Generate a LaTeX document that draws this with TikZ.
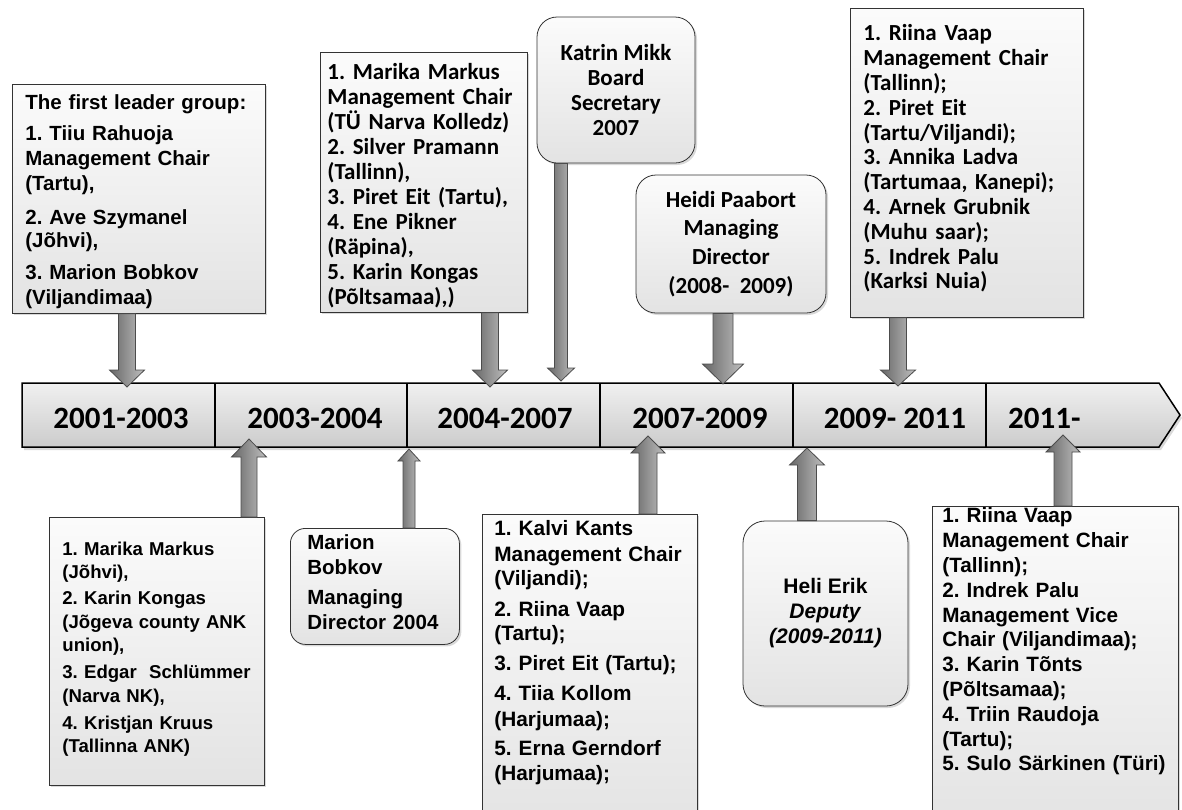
\documentclass[tikz,border=0pt]{standalone}
\usepackage{fontspec}
\usepackage{xcolor}
\usepackage{tikz}
\usetikzlibrary{calc}
\usetikzlibrary{shadows}

\newfontfamily\arialfont{Liberation Sans}
\newfontfamily\calibrifont{Carlito}

% fat block arrow: start, tip, half shaft, half head, head length (signed)
\newcommand{\blockarrow}[5]{%
  \path[block arrow] ($(#1)+(-#3,0)$) -- ($(#2)+(-#3,#5)$) -- ($(#2)+(-#4,#5)$) -- (#2)
    -- ($(#2)+(#4,#5)$) -- ($(#2)+(#3,#5)$) -- ($(#1)+(#3,0)$) -- cycle;}

\begin{document}
\frenchspacing
\hyphenpenalty=10000
\exhyphenpenalty=10000
\begin{tikzpicture}[x=1pt,y=-1pt,
    list node/.style={rectangle,draw=black!80,line width=0.8pt,top color=gray!3,bottom color=gray!22,
      drop shadow={opacity=0.3,shadow xshift=2pt,shadow yshift=-2pt},anchor=north west,align=left,inner ysep=0pt},
    round node/.style={list node,rounded corners=18pt},
    arial/.style={font=\arialfont\bfseries\fontsize{#1}{25}\selectfont},
    calibri/.style={font=\calibrifont\bfseries\fontsize{23}{#1}\selectfont},
    year label/.style={font=\calibrifont\bfseries\fontsize{31}{31}\selectfont,inner sep=0pt},
    time bar/.style={draw=black,line width=1.5pt,top color=gray!12,bottom color=gray!40,
      drop shadow={opacity=0.3,shadow xshift=2pt,shadow yshift=-3pt}},
    block arrow/.style={draw=black!70,line width=0.8pt,left color=black!60,right color=black!25}]

 \useasboundingbox (0,0) rectangle (1182,809);

 % boxes above the time line
 \node[list node,arial=20.5,inner xsep=13pt,text width=227pt,text height=25pt,text depth=204pt] (lead1) at (12,84)
  {The first leader group:\\[6pt]
   1. Tiiu Rahuoja\\
   Management Chair\\
   (Tartu),\\[9pt]
   2. Ave Szymanel\\[-2pt]
   (Jõhvi),\\[7pt]
   3. Marion Bobkov\\
   (Viljandimaa)};
 \node[list node,calibri=24.9,inner xsep=7pt,text width=193pt,text height=27.5pt,text depth=232.5pt] (board04) at (320,52)
  {1. Marika Markus\\
   Management Chair\\
   (TÜ Narva Kolledz)\\
   2. Silver Pramann\\
   (Tallinn),\\
   3. Piret Eit (Tartu),\\
   4. Ene Pikner\\
   (Räpina),\\
   5. Karin Kongas\\
   (Põltsamaa),)};
 \node[round node,calibri=25.3,anchor=center,align=center,inner sep=0pt,rounded corners=20pt,
   minimum width=158pt,minimum height=146pt] (secr07) at (616,90)
  {Katrin Mikk\\Board\\Secretary\\2007};
 \node[round node,calibri=28.7,anchor=center,align=center,inner sep=0pt,rounded corners=20pt,
   minimum width=190pt,minimum height=138pt] (dir08) at (731,244)
  {Heidi Paabort\\Managing\\Director\\(2008-~ 2009)};
 \node[list node,calibri=24.8,inner xsep=13pt,text width=207pt,text height=32.5pt,text depth=276.5pt] (board09) at (850,8)
  {1. Riina Vaap\\
   Management Chair\\
   (Tallinn);\\
   2. Piret Eit\\
   (Tartu/Viljandi);\\
   3. Annika Ladva\\
   (Tartumaa, Kanepi);\\
   4. Arnek Grubnik\\
   (Muhu saar);\\
   5. Indrek Palu\\
   (Karksi Nuia)};

 % boxes below the time line
 \node[list node,font=\arialfont\bfseries\fontsize{18.6}{23.5}\selectfont,inner xsep=13pt,text width=189pt,
   text height=38pt,text depth=230pt] (board03) at (49,517)
  {1. Marika Markus\\
   (Jõhvi),\\[2.5pt]
   2. Karin Kongas\\
   \mbox{(Jõgeva county ANK}\\
   union),\\[3.5pt]
   \mbox{3. Edgar\ \ Schlümmer}\\
   (Narva NK),\\[3.5pt]
   4. Kristjan Kruus\\
   (Tallinna ANK)};
 \node[round node,arial=20.5,inner xsep=17pt,text width=135pt,text height=21.5pt,text depth=94.5pt,
   rounded corners=15pt] (dir04) at (290,528)
  {Marion\\Bobkov\\[5pt]Managing\\Director 2004};
 \node[list node,arial=20.8,inner xsep=12pt,text width=191pt,text height=21.5pt,text depth=300pt] (board07) at (482,514)
  {1. Kalvi Kants\\[1pt]
   Management Chair\\[-1pt]
   (Viljandi);\\[6pt]
   2. Riina Vaap\\[-1pt]
   (Tartu);\\[5pt]
   3. Piret Eit (Tartu);\\[5pt]
   4. Tiia Kollom\\[1pt]
   (Harjumaa);\\[4pt]
   5. Erna Gerndorf\\
   (Harjumaa);};
 \node[round node,arial=21,anchor=center,align=center,inner sep=0pt,rounded corners=22pt,
   minimum width=165pt,minimum height=185pt] (deputy) at (825.5,613.5)
  {Heli Erik\\\textit{Deputy}\\\textit{(2009-2011)}};
 \node[list node,font=\arialfont\bfseries\fontsize{20.7}{24.8}\selectfont,inner xsep=10pt,text width=226pt,
   text height=16.5pt,text depth=310pt] (board11) at (932,506)
  {1. Riina Vaap\\
   Management Chair\\
   (Tallinn);\\
   2. Indrek Palu\\
   Management Vice\\
   Chair (Viljandimaa);\\
   3. Karin Tõnts\\
   (Põltsamaa);\\
   4. Triin Raudoja\\
   (Tartu);\\
   \mbox{5. Sulo Särkinen (Türi)}};

 % time line
 \draw[time bar] (22,383) -- (1159,383) -- (1180,415) -- (1159,447) -- (22,447) -- cycle;
 \foreach \x in {215,407,600,793,986}
   \draw[line width=2pt] (\x,383) -- (\x,447);

 \node[year label] (y01) at (121,418) {2001-2003};
 \node[year label] (y03) at (315,418) {2003-2004};
 \node[year label] (y04) at (505,418) {2004-2007};
 \node[year label] (y07) at (700,418) {2007-2009};
 \node[year label] (y09) at (895,418) {2009- 2011};
 \node[year label,anchor=west] (y11) at (1008,418) {2011-};

 % arrow tips on the time line
 \coordinate (tA) at (127,387);
 \coordinate (tB) at (490,387);
 \coordinate (tC) at (561,381);
 \coordinate (tD) at (723,384);
 \coordinate (tE) at (898,386);
 \coordinate (tF) at (249,439);
 \coordinate (tG) at (409,449);
 \coordinate (tH) at (648,436);
 \coordinate (tI) at (807,448);
 \coordinate (tJ) at (1063,435);

 \coordinate (sA) at (lead1.south -| tA);
 \coordinate (sB) at (board04.south -| tB);
 \coordinate (sC) at (secr07.south -| tC);
 \coordinate (sD) at (dir08.south -| tD);
 \coordinate (sE) at (board09.south -| tE);
 \coordinate (sF) at (board03.north -| tF);
 \coordinate (sG) at (dir04.north -| tG);
 \coordinate (sH) at (board07.north -| tH);
 \coordinate (sI) at (deputy.north -| tI);
 \coordinate (sJ) at (board11.north -| tJ);

 \blockarrow{sA}{tA}{8.5}{17.5}{-17}
 \blockarrow{sB}{tB}{8.5}{17.5}{-17}
 \blockarrow{sC}{tC}{6.5}{13.5}{-13}
 \blockarrow{sD}{tD}{10}{20.5}{-20}
 \blockarrow{sE}{tE}{8.5}{17.5}{-16}
 \blockarrow{sF}{tF}{8}{17.5}{18}
 \blockarrow{sG}{tG}{6}{11}{12}
 \blockarrow{sH}{tH}{9}{17}{17}
 \blockarrow{sI}{tI}{9.5}{17.5}{17}
 \blockarrow{sJ}{tJ}{9}{17}{17}

\end{tikzpicture}
\end{document}
